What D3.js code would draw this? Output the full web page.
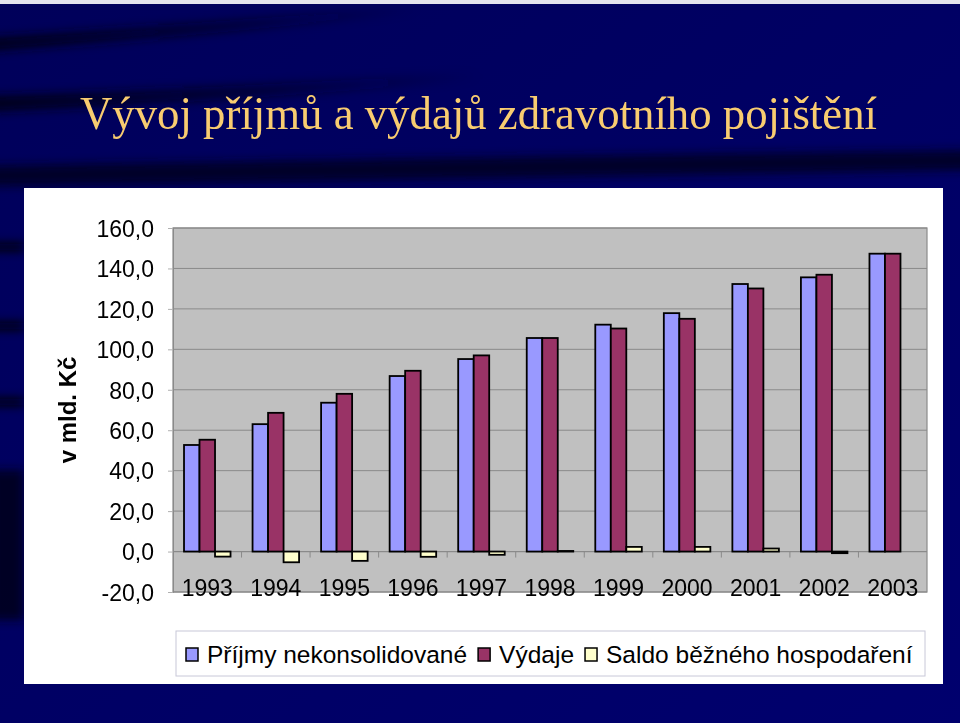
<!DOCTYPE html>
<html><head><meta charset="utf-8">
<script src="https://cdn.jsdelivr.net/npm/d3@7"></script>
<style>html,body{margin:0;padding:0;background:#000066;}svg{display:block;}</style>
</head><body>
<svg id="c" width="960" height="723"></svg>
<script>
const years = ["1993","1994","1995","1996","1997","1998","1999","2000","2001","2002","2003"];
const prijmy = [52.7, 63.0, 73.6, 86.8, 95.2, 105.6, 112.2, 117.9, 132.3, 135.6, 147.3];
const vydaje = [55.3, 68.6, 78.0, 89.4, 97.0, 105.6, 110.3, 115.1, 130.1, 136.9, 147.3];
const saldo  = [-2.5, -5.3, -4.6, -2.6, -1.6, 0.3, 2.3, 2.3, 1.5, -0.8, 0];
const seriesNames = ["Příjmy nekonsolidované", "Výdaje", "Saldo běžného hospodaření"];
const seriesColors = ["#9999FF", "#993366", "#FFFFCC"];
const yTicks = [-20, 0, 20, 40, 60, 80, 100, 120, 140, 160];
const title = "Vývoj příjmů a výdajů zdravotního pojištění";
const yLabel = "v mld. Kč";

const svg = d3.select("#c");
const defs = svg.append("defs");
const blur = defs.append("filter").attr("id","blur").attr("x","-20%").attr("y","-50%").attr("width","140%").attr("height","200%");
blur.append("feGaussianBlur").attr("stdDeviation", 5);
const fadeR = defs.append("linearGradient").attr("id","fadeR").attr("x1","0").attr("x2","1");
fadeR.append("stop").attr("offset","0").attr("stop-color","#000018").attr("stop-opacity",0.95);
fadeR.append("stop").attr("offset","0.6").attr("stop-color","#000018").attr("stop-opacity",0.5);
fadeR.append("stop").attr("offset","1").attr("stop-color","#000018").attr("stop-opacity",0);
const bgGrad = defs.append("linearGradient").attr("id","bgGrad").attr("x1","0").attr("y1","0").attr("x2","1").attr("y2","1");
bgGrad.append("stop").attr("offset","0").attr("stop-color","#00005a");
bgGrad.append("stop").attr("offset","1").attr("stop-color","#00006e");

// background
svg.append("rect").attr("width",960).attr("height",723).attr("fill","url(#bgGrad)");
const sw = svg.append("g").attr("filter","url(#blur)");
sw.append("path").attr("d","M-20,38 Q180,25 420,6 L420,12 Q180,38 -20,52 Z").attr("fill","url(#fadeR)");
sw.append("path").attr("d","M-20,96 Q200,90 480,72 L480,80 Q200,104 -20,112 Z").attr("fill","url(#fadeR)");
sw.append("path").attr("d","M-20,166 Q400,158 980,150 L980,170 Q400,180 -20,186 Z").attr("fill","#00001c").attr("opacity",0.85);
sw.append("rect").attr("x",-10).attr("y",470).attr("width",34).attr("height",150).attr("fill","#000020").attr("opacity",0.9);
[[243,8],[322,8],[398,8]].forEach(d=>sw.append("rect").attr("x",-10).attr("y",d[0]).attr("width",34).attr("height",d[1]).attr("fill","#000010"));
svg.append("rect").attr("x",0).attr("y",0).attr("width",960).attr("height",4).attr("fill","#e4e4ee");

// title
svg.append("text").attr("x",80).attr("y",129).attr("font-family","'Liberation Serif','Times New Roman',serif")
  .attr("font-size",46).attr("fill","#F8CC70").attr("textLength",797).attr("lengthAdjust","spacingAndGlyphs").text(title);

// white panel
svg.append("rect").attr("x",24).attr("y",188).attr("width",919).attr("height",496).attr("fill","#ffffff");

// plot
const pl = {x0:173, x1:927, y0:228, y1:592};
const y = d3.scaleLinear().domain([-20,160]).range([pl.y1, pl.y0]);
const x = d3.scaleBand().domain(years).range([pl.x0, pl.x1]).paddingInner(0).paddingOuter(0);
const bw = x.bandwidth();
const w = bw / 4.42;
const gStart = (bw - 3*w)/2;
const xs = d3.scaleBand().domain([0,1,2]).range([gStart, gStart+3*w]);

svg.append("rect").attr("x",pl.x0).attr("y",pl.y0).attr("width",pl.x1-pl.x0).attr("height",pl.y1-pl.y0).attr("fill","#C0C0C0");
// gridlines
svg.append("g").selectAll("line").data(yTicks.filter(t=>t!==0)).join("line")
  .attr("x1",pl.x0).attr("x2",pl.x1).attr("y1",d=>y(d)).attr("y2",d=>y(d)).attr("stroke","#8a8a8a").attr("stroke-width",1);
svg.append("rect").attr("x",pl.x0).attr("y",pl.y0).attr("width",pl.x1-pl.x0).attr("height",pl.y1-pl.y0).attr("fill","none").attr("stroke","#8a8a8a").attr("stroke-width",1.2);

// y axis
const yAxis = d3.axisLeft(y).tickValues(yTicks).tickSize(5).tickPadding(14)
  .tickFormat(d=>d.toFixed(1).replace(".",","));
const ga = svg.append("g").attr("transform",`translate(${pl.x0},0)`).call(yAxis);
ga.select(".domain").attr("stroke","#8a8a8a");
ga.selectAll(".tick line").attr("stroke","#b0b0b0");
ga.selectAll("text").attr("font-family","'Liberation Sans',Arial,sans-serif").attr("font-size",23).attr("fill","#000").attr("dy","0.36em");

// x axis at zero
const gx = svg.append("g").attr("transform",`translate(0,${y(0)})`);
gx.append("line").attr("x1",pl.x0).attr("x2",pl.x1).attr("stroke","#8a8a8a").attr("stroke-width",1.2);
gx.selectAll("line.sep").data(years.slice(1)).join("line").attr("class","sep")
  .attr("x1",d=>x(d)).attr("x2",d=>x(d)).attr("y1",0).attr("y2",6).attr("stroke","#8a8a8a");
svg.append("g").selectAll("text").data(years).join("text")
  .attr("x",d=>x(d)+bw/2).attr("y",596).attr("text-anchor","middle")
  .attr("font-family","'Liberation Sans',Arial,sans-serif").attr("font-size",23).attr("fill","#000").text(d=>d);

// bars
const series = [prijmy, vydaje, saldo];
series.forEach((vals,si)=>{
  svg.append("g").selectAll("rect").data(years.map((yr,i)=>({yr,v:vals[i]})).filter(d=>d.v!==0)).join("rect")
    .attr("x",d=>x(d.yr)+xs(si)).attr("width",xs.bandwidth())
    .attr("y",d=>y(Math.max(0,d.v))).attr("height",d=>Math.abs(y(d.v)-y(0)))
    .attr("fill",seriesColors[si]).attr("stroke","#000").attr("stroke-width",1.8);
});

// y label
svg.append("text").attr("transform","translate(76,410) rotate(-90)").attr("text-anchor","middle")
  .attr("font-family","'Liberation Sans',Arial,sans-serif").attr("font-weight","bold").attr("font-size",24).attr("fill","#000").text(yLabel);

// legend
const lg = svg.append("g");
lg.append("rect").attr("x",176).attr("y",631).attr("width",749).attr("height",45).attr("fill","#fff").attr("stroke","#c8c8d8").attr("stroke-width",1);
let cx = 186;
seriesNames.forEach((n,i)=>{
  lg.append("rect").attr("x",cx).attr("y",648).attr("width",12).attr("height",13).attr("fill",seriesColors[i]).attr("stroke","#000").attr("stroke-width",1.5);
  const t = lg.append("text").attr("x",cx+21).attr("y",663).attr("font-family","'Liberation Sans',Arial,sans-serif")
    .attr("font-size",24.5).attr("fill","#000").text(n);
  cx = cx + 21 + t.node().getComputedTextLength() + 11;
});
</script>
</body></html>
